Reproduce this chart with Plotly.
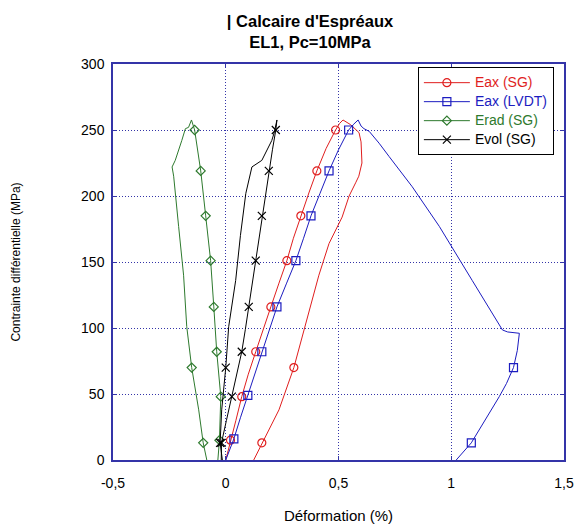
import plotly.graph_objects as go

# Eax (SG) - jauge axiale
eax_sg_x = [0, 0.021, 0.045, 0.071, 0.1, 0.133, 0.165, 0.2, 0.236, 0.271, 0.3, 0.333, 0.37, 0.404,
            0.445, 0.487, 0.505, 0.52, 0.554, 0.591, 0.6, 0.604, 0.59, 0.576, 0.547, 0.516, 0.458,
            0.413, 0.355, 0.302, 0.236, 0.16, 0.124]
eax_sg_y = [0, 15, 30, 48, 65, 82, 99, 116, 134, 151, 168, 185, 203, 219,
            236, 250, 255, 257.6, 254, 248, 241, 225, 215, 210, 200, 184, 164,
            140, 104, 70, 38, 13, 0]
eax_sg_mx = [0.021, 0.071, 0.133, 0.2, 0.271, 0.333, 0.404, 0.487, 0.302, 0.16]
eax_sg_my = [15, 48, 82, 116, 151, 185, 219, 250, 70, 13]

# Eax (LVDT)
eax_lv_x = [0, 0.036, 0.065, 0.098, 0.13, 0.16, 0.195, 0.227, 0.27, 0.311, 0.345, 0.378, 0.418,
            0.458, 0.5, 0.545, 0.565, 0.587, 0.6, 0.613, 0.636, 0.68, 0.724, 0.755, 0.827, 0.947,
            1.067, 1.093, 1.227, 1.25, 1.302, 1.293, 1.276, 1.245, 1.213, 1.15, 1.089, 1.022]
eax_lv_y = [0, 16, 32, 49, 66, 82, 99, 116, 134, 151, 168, 185, 202,
            219, 235, 250, 254, 257.6, 253, 251, 249, 240, 230, 223, 207, 177,
            144, 136, 98.5, 97, 96, 83, 70, 58, 48, 30, 13, 0]
eax_lv_mx = [0.036, 0.098, 0.16, 0.227, 0.311, 0.378, 0.458, 0.545, 1.276, 1.089]
eax_lv_my = [16, 49, 82, 116, 151, 185, 219, 250, 70, 13]

# Erad (SG)
erad_x = [-0.035, -0.028, -0.022, -0.04, -0.053, -0.067, -0.089, -0.111, -0.138, -0.152, -0.165,
          -0.179, -0.195, -0.224, -0.238, -0.231, -0.209, -0.187, -0.173, -0.151, -0.12, -0.1, -0.084]
erad_y = [0, 15, 48, 82, 116, 151, 185, 219, 250, 257.6, 252,
          251, 242, 227, 222, 215, 177, 140, 101, 70, 38, 13, 0]
erad_mx = [-0.028, -0.022, -0.04, -0.053, -0.067, -0.089, -0.111, -0.138, -0.151, -0.1]
erad_my = [15, 48, 82, 116, 151, 185, 219, 250, 70, 13]

# Evol (SG)
evol_x = [-0.02, -0.019, 0.003, 0.027, 0.05, 0.071, 0.087, 0.102, 0.118, 0.133, 0.147, 0.16,
          0.175, 0.191, 0.207, 0.222, 0.227, 0.215, 0.204, 0.16, 0.116, 0.089, 0.065, 0.044,
          0.013, 0, -0.018, -0.025, -0.015]
evol_y = [0, 13, 30, 48, 65, 82, 99, 116, 134, 151, 168, 185,
          202, 219, 235, 250, 257.6, 248, 242, 227, 222, 202, 170, 136,
          101, 70, 38, 13, 0]
evol_mx = [-0.019, 0.027, 0.071, 0.102, 0.133, 0.16, 0.191, 0.222, 0, -0.025]
evol_my = [13, 48, 82, 116, 151, 185, 219, 250, 70, 13]

x_ticks = [-0.5, 0, 0.5, 1, 1.5]
x_ticktext = ['-0,5', '0', '0,5', '1', '1,5']
y_ticks = [0, 50, 100, 150, 200, 250, 300]

series = [
    ('Eax (SG)', eax_sg_x, eax_sg_y, eax_sg_mx, eax_sg_my, '#e01e1e', 'circle-open', 8),
    ('Eax (LVDT)', eax_lv_x, eax_lv_y, eax_lv_mx, eax_lv_my, '#1c1cc0', 'square-open', 8),
    ('Erad (SG)', erad_x, erad_y, erad_mx, erad_my, '#2e7a2e', 'diamond-open', 7),
    ('Evol (SG)', evol_x, evol_y, evol_mx, evol_my, '#000000', 'x-thin-open', 8),
]

fig = go.Figure()
for name, x, y, mx, my, col, sym, ms in series:
    fig.add_trace(go.Scatter(x=x, y=y, mode='lines', line=dict(color=col, width=1),
                             showlegend=False, hoverinfo='skip'))
    fig.add_trace(go.Scatter(x=mx, y=my, mode='markers', showlegend=False,
                             marker=dict(symbol=sym, size=ms, color=col,
                                         line=dict(color=col, width=1.2))))
    # entree de legende (ligne + marqueur)
    fig.add_trace(go.Scatter(x=[None], y=[None], mode='lines+markers',
                             name="<span style='color:%s;font-size:14px'>%s</span>" % (col, name),
                             line=dict(color=col, width=1),
                             marker=dict(symbol=sym, size=ms, color=col,
                                         line=dict(color=col, width=1.2))))

axcol = '#3434a8'
fig.update_xaxes(range=[-0.5, 1.5], tickvals=x_ticks, ticktext=x_ticktext,
                 showgrid=True, gridcolor=axcol, griddash='1px,2px', gridwidth=1,
                 zeroline=False, showline=True, linecolor=axcol, linewidth=1.5,
                 mirror='ticks', ticks='inside', ticklen=4, tickcolor=axcol,
                 tickfont=dict(size=14), ticklabelstandoff=9,
                 title=dict(text='Déformation (%)', standoff=21, font=dict(size=15)))
fig.update_yaxes(range=[0, 300], tickvals=y_ticks,
                 showgrid=True, gridcolor=axcol, griddash='1px,2px', gridwidth=1,
                 zeroline=False, showline=True, linecolor=axcol, linewidth=1.5,
                 mirror='ticks', ticks='inside', ticklen=4, tickcolor=axcol,
                 tickfont=dict(size=14), ticklabelstandoff=4,
                 title=dict(text='Contrainte différentielle (MPa)', standoff=58,
                            font=dict(size=12)))

fig.update_layout(
    width=577, height=531,
    margin=dict(l=113, r=13, t=64, b=71, autoexpand=False),
    paper_bgcolor='white', plot_bgcolor='white',
    font=dict(family='Liberation Sans, Arial', size=12, color='black'),
    title=dict(text="<b>| Calcaire d'Espréaux</b><br><b>EL1, Pc=10MPa</b>",
               x=310 / 577, xanchor='center', y=1 - 27 / 531, yanchor='top',
               font=dict(size=16.5)),
    legend=dict(x=0.676, y=0.992, xanchor='left', yanchor='top',
                bordercolor='black', borderwidth=1, bgcolor='white',
                font=dict(size=10), tracegroupgap=0, itemwidth=46),
)

fig.write_html("out.html", config={'displayModeBar': False},
               post_script="document.body.style.margin='0px';")
